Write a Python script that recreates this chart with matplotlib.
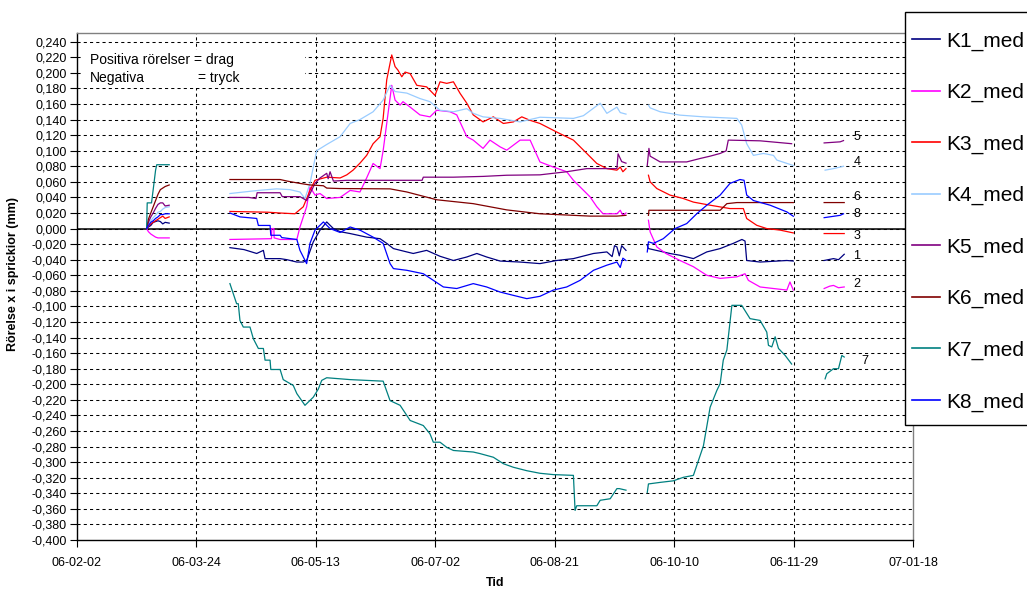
import numpy as np
import matplotlib
matplotlib.use('Agg')
import matplotlib.pyplot as plt
import matplotlib.dates as mdates
from matplotlib.patches import Rectangle
from matplotlib.ticker import FuncFormatter

plt.rcParams['font.family'] = ['Liberation Sans', 'DejaVu Sans']

# ---------------- data (days since 2006-02-02, value in mm; None = gap) ----------------
start_date = '2006-02-02'
series_names = ['K1_med', 'K2_med', 'K3_med', 'K4_med', 'K5_med', 'K6_med', 'K7_med', 'K8_med']
series_colors = ['#000080', '#FF00FF', '#FF0000', '#99CCFF', '#800080', '#800000', '#008080', '#0000FF']

k1_days = [29.25, 30, 31, 32, 33, 34, 35, 36, 37, 38.7, 50,
           64.1, 70, 75.3, 78.1, 78.8, 85.1, 88, 92.1, 94.8, 96.2, 99.0, 101.8, 104.6, 107.4, 110.2, 114.4,
           121.3, 126.9, 129.7, 132.5, 138.1, 140.8, 146.4, 152.0, 157.6, 163.2, 167.4, 171.5, 177.1, 185.5,
           193.8, 200.8, 207.8, 216.2, 221.8, 224, 225, 226.0, 227, 228, 229.8, 234,
           238.7, 239.2, 248.2, 252.4, 258.0, 263.6, 269.2, 274.7, 278.3, 279.6, 280.3, 285.9, 297.1, 299.8, 306,
           312.7, 316.6, 318.7, 321.1]
k1_vals = [0, 0.002, 0.004, 0.008, 0.009, 0.010, 0.009, 0.006, 0.008, 0.007, None,
           -0.0245, -0.027, -0.032, -0.028, -0.0386, -0.0386, -0.040, -0.043, -0.043, -0.041, -0.017, -0.002,
           0.0085, 0.0, -0.004, -0.0064, -0.011, -0.013, -0.019, -0.0257, -0.030, -0.032, -0.028, -0.0356,
           -0.041, -0.0365, -0.032, -0.0365, -0.0417, -0.043, -0.045, -0.041, -0.0386, -0.032, -0.030, -0.036,
           -0.022, -0.0236, -0.035, -0.022, -0.028, None,
           -0.0215, -0.0257, -0.032, -0.0343, -0.0386, -0.030, -0.0257, -0.019, -0.014, -0.016, -0.041, -0.043,
           -0.041, -0.0417, None,
           -0.041, -0.0386, -0.040, -0.033]

k2_days = [29.25, 30, 31, 32, 33, 34, 35, 36, 37, 38.7, 50,
           64.1, 81.5, 81.6, 82.5, 82.6, 85.1, 92.1, 93.4, 96.2, 97.6, 99.7, 101.8, 104.6, 110.2, 114.4, 118.5,
           121.3, 124.0, 126.9, 128.2, 129.7, 131.8, 133.2, 135.3, 136.5, 139.5, 143.6, 147.8, 150.6, 156.2,
           159.0, 163.2, 165.9, 170.0, 172.9, 177.1, 179.9, 185.5, 189.7, 193.8, 199.4, 205.0, 207.8, 210.6,
           214.8, 217.6, 220.2, 226.0, 227.4, 228.5, 229.8, 234,
           239.2, 239.9, 242.7, 246.5, 252.4, 258.0, 263.6, 269.2, 276.2, 279.6, 281.0, 285.9, 297.1, 298.4,
           299.8, 306,
           312.7, 315.0, 316.6, 318.7, 321.1]
k2_vals = [0, -0.004, -0.007, -0.009, -0.011, -0.012, -0.012, -0.012, -0.012, -0.012, None,
           -0.014, -0.013, 0.0, 0.0, -0.012, -0.014, -0.014, 0.002, 0.028, 0.0535, 0.043, 0.045, 0.0386, 0.040,
           0.049, 0.047, 0.065, 0.0836, 0.077, 0.10, 0.135, 0.184, 0.165, 0.1586, 0.163, 0.156, 0.146, 0.1435,
           0.152, 0.150, 0.146, 0.118, 0.1136, 0.103, 0.1136, 0.105, 0.1007, 0.1136, 0.1136, 0.0856, 0.079,
           0.073, 0.062, 0.0535, 0.0406, 0.028, 0.019, 0.019, 0.0235, 0.017, 0.020, None,
           0.0107, -0.0043, -0.0236, -0.032, -0.041, -0.049, -0.060, -0.064, -0.062, -0.058, -0.0665, -0.075,
           -0.079, -0.0686, -0.079, None,
           -0.077, -0.074, -0.073, -0.076, -0.075]

k3_days = [29.25, 30, 31, 32, 33, 34, 35, 36, 37, 38.7, 50,
           64.1, 80, 85, 91.3, 94.8, 97.6, 99.7, 104.6, 110.2, 113.0, 115.6, 118.5, 121.3, 124.0, 126.9, 128.2,
           129.7, 131.8, 133.2, 134.4, 136.0, 137.4, 139.5, 142.3, 146.4, 149.9, 152.0, 154.8, 157.6, 160.4,
           163.2, 165.9, 170.0, 174.3, 178.5, 182.7, 186.2, 189.7, 193.8, 200.8, 207.8, 213.4, 217.6, 221.8,
           226.0, 227.4, 228.5, 229.8, 234,
           239.2, 239.9, 242.7, 248.2, 253.8, 258.0, 265.0, 273.3, 278.9, 280.3, 284.5, 288.7, 294.3, 299.8, 306,
           312.7, 321.1]
k3_vals = [0, 0.003, 0.006, 0.008, 0.010, 0.012, 0.014, 0.016, 0.013, 0.015, None,
           0.022, 0.021, 0.020, 0.019, 0.028, 0.049, 0.062, 0.066, 0.065, 0.069, 0.075, 0.084, 0.094, 0.109,
           0.118, 0.1415, 0.191, 0.223, 0.208, 0.2035, 0.195, 0.201, 0.199, 0.184, 0.182, 0.171, 0.1885, 0.1865,
           0.1885, 0.1736, 0.161, 0.146, 0.137, 0.1435, 0.135, 0.137, 0.1435, 0.139, 0.135, 0.124, 0.1136,
           0.0965, 0.0836, 0.077, 0.075, 0.079, 0.073, 0.077, None,
           0.0685, 0.060, 0.0514, 0.043, 0.0386, 0.034, 0.030, 0.0257, 0.0257, 0.0129, 0.0042, 0.0, -0.002,
           -0.0056, None,
           -0.0064, -0.0064]

k4_days = [29.25, 30, 31, 32, 33, 34, 35, 36, 37, 38.7, 50,
           64.1, 70, 76, 83.7, 89.2, 93.4, 95.5, 97.6, 100.4, 104.6, 110.2, 114.4, 118.5, 124.0, 128.2, 131.1,
           133.2, 138.1, 143.6, 147.8, 152.0, 157.6, 163.2, 165.9, 170.0, 177.1, 185.5, 193.8, 207.8, 212.0,
           219.0, 221.8, 226.0, 227.4, 229.8, 234,
           239.2, 239.9, 244.1, 252.4, 262.2, 276.2, 278.2, 280.3, 283.1, 287.3, 291.5, 292.9, 299.8, 306,
           313.1, 316.6, 320.8]
k4_vals = [0, 0.006, 0.010, 0.014, 0.017, 0.021, 0.022, 0.025, 0.027, 0.028, None,
           0.045, 0.047, 0.049, 0.051, 0.050, 0.047, 0.0386, 0.058, 0.100, 0.108, 0.118, 0.135, 0.140, 0.150,
           0.165, 0.184, 0.176, 0.174, 0.167, 0.163, 0.152, 0.150, 0.154, 0.148, 0.1435, 0.1415, 0.137, 0.143,
           0.1415, 0.145, 0.161, 0.148, 0.156, 0.149, 0.147, None,
           0.1586, 0.155, 0.150, 0.1457, 0.1435, 0.1415, 0.133, 0.109, 0.094, 0.0965, 0.094, 0.088, 0.081, None,
           0.075, 0.077, 0.080]

k5_days = [29.25, 30, 31, 32, 33, 34, 35, 36, 37, 38.7, 50,
           64.1, 72, 75, 75.5, 85.1, 86, 93.4, 96.2, 99.7, 101.8, 104.6, 105.2, 106, 107.4, 113, 144.5, 145,
           157.6, 170, 179.9, 193.8, 205.0, 213.4, 226.0, 226.5, 228.0, 229.8, 234,
           238.7, 239.4, 239.9, 244.1, 255.2, 260.8, 265.0, 269.2, 271.7, 272.6, 285.9, 299.1, 306,
           312.7, 319.4, 320.8]
k5_vals = [0, 0.008, 0.015, 0.020, 0.026, 0.031, 0.033, 0.033, 0.029, 0.030, None,
           0.040, 0.040, 0.0386, 0.046, 0.046, 0.041, 0.041, 0.036, 0.058, 0.065, 0.071, 0.064, 0.073, 0.061,
           0.062, 0.062, 0.066, 0.066, 0.067, 0.0685, 0.069, 0.073, 0.077, 0.077, 0.096, 0.086, 0.084, None,
           0.081, 0.103, 0.093, 0.0856, 0.0856, 0.090, 0.093, 0.0965, 0.0998, 0.1136, 0.1127, 0.109, None,
           0.110, 0.1114, 0.113]

k6_days = [29.25, 30, 31, 32, 33, 34, 35, 36, 37, 38.7, 50,
           64.1, 85.1, 88, 93.4, 97.6, 103.2, 104.6, 110.2, 131.1, 138.1, 150.6, 165.9, 179.9, 193.8, 214.8,
           226.0, 229.8, 234,
           239.2, 239.4, 269.2, 272.0, 276.2, 299.8, 306,
           312.7, 321.1]
k6_vals = [0, 0.012, 0.020, 0.028, 0.036, 0.044, 0.050, 0.052, 0.054, 0.056, None,
           0.063, 0.063, 0.061, 0.058, 0.056, 0.055, 0.052, 0.0514, 0.051, 0.047, 0.037, 0.032, 0.024, 0.019,
           0.016, 0.016, 0.017, None,
           0.017, 0.0235, 0.0235, 0.032, 0.0334, 0.0334, None,
           0.0334, 0.0334]

k7_days = [29.25, 29.5, 31.3, 32, 33, 33.5, 38.7, 50,
           64.1, 65.5, 66.9, 67.6, 68.3, 69.7, 72.5, 73.9, 76.0, 78.1, 78.8, 80.9, 81.2, 85.1, 86.4, 90.6, 92.1,
           95.5, 99.0, 101.1, 102.5, 104.6, 114.4, 128.2, 131.1, 135.3, 139.5, 145.0, 147.8, 149.2, 152.0, 154.8,
           157.6, 165.9, 168.7, 174.3, 178.5, 182.7, 188.3, 193.8, 199.4, 207.8, 208.5, 209.2, 217.6, 219.0,
           223.2, 226.0, 227.0, 229.8, 234,
           238.7, 239.2, 244.1, 249.6, 253.8, 258.0, 260.1, 262.2, 265.0, 267.8, 269.2, 270.5, 272.0, 274.1,
           278.2, 281.7, 285.9, 288.7, 289.4, 290.8, 292.2, 293.6, 296.4, 299.1, 306,
           313.1, 313.8, 316.6, 318.7, 320.1, 321.1]
k7_vals = [0, 0.033, 0.033, 0.050, 0.075, 0.082, 0.082, None,
           -0.0707, -0.0836, -0.0965, -0.0965, -0.118, -0.1265, -0.1265, -0.1415, -0.154, -0.154, -0.169,
           -0.169, -0.181, -0.181, -0.194, -0.2015, -0.212, -0.227, -0.2165, -0.206, -0.195, -0.1916, -0.194,
           -0.196, -0.221, -0.227, -0.2465, -0.253, -0.2636, -0.2744, -0.2744, -0.281, -0.285, -0.287, -0.289,
           -0.2937, -0.302, -0.3066, -0.311, -0.3143, -0.316, -0.317, -0.362, -0.356, -0.356, -0.349, -0.347,
           -0.334, -0.334, -0.336, None,
           -0.339, -0.328, -0.326, -0.324, -0.3195, -0.317, -0.298, -0.279, -0.2295, -0.208, -0.199, -0.169,
           -0.156, -0.0986, -0.0986, -0.1157, -0.118, -0.133, -0.150, -0.152, -0.139, -0.154, -0.163, -0.174,
           None,
           -0.193, -0.1865, -0.180, -0.180, -0.163, -0.165]

k8_days = [29.25, 30, 31, 32, 33, 34, 35, 36, 37, 38.7, 50,
           64.1, 68.3, 75.3, 76.0, 80.9, 81.2, 85.1, 85.8, 92.1, 93.4, 94.8, 96.2, 97.6, 99.7, 103.2, 106.0,
           110.2, 114.4, 118.5, 124.0, 128.2, 131.1, 132.5, 138.1, 145.0, 149.2, 153.4, 159.0, 165.9, 171.5,
           177.1, 182.7, 188.3, 193.8, 199.4, 205.0, 210.6, 216.2, 221.8, 226.0, 227.4, 228.5, 229.8, 234,
           238.7, 239.2, 241.3, 245.4, 250.3, 255.2, 259.4, 263.6, 269.2, 273.3, 277.5, 279.2, 280.3, 283.1,
           290.1, 297.1, 299.8, 306,
           312.7, 319.4, 320.8]
k8_vals = [0, 0.004, 0.008, 0.010, 0.013, 0.015, 0.018, 0.018, 0.019, 0.019, None,
           0.020, 0.015, 0.013, 0.004, 0.004, -0.0086, -0.0086, -0.0116, -0.014, -0.028, -0.0365, -0.045,
           -0.019, -0.002, 0.0085, 0.0, -0.005, 0.002, -0.002, -0.011, -0.019, -0.045, -0.0514, -0.0536, -0.058,
           -0.0665, -0.075, -0.077, -0.0707, -0.075, -0.0815, -0.0858, -0.090, -0.087, -0.079, -0.075, -0.0665,
           -0.0536, -0.047, -0.043, -0.050, -0.038, -0.041, None,
           -0.030, -0.017, -0.019, -0.013, 0.0, 0.0064, 0.019, 0.030, 0.043, 0.058, 0.063, 0.062, 0.043, 0.036,
           0.030, 0.0214, 0.0158, None,
           0.014, 0.017, 0.019]

all_days = [k1_days, k2_days, k3_days, k4_days, k5_days, k6_days, k7_days, k8_days]
all_vals = [k1_vals, k2_vals, k3_vals, k4_vals, k5_vals, k6_vals, k7_vals, k8_vals]

tick_dates = ['2006-02-02', '2006-03-24', '2006-05-13', '2006-07-02', '2006-08-21',
              '2006-10-10', '2006-11-29', '2007-01-18']
tick_labels = ['06-02-02', '06-03-24', '06-05-13', '06-07-02', '06-08-21',
               '06-10-10', '06-11-29', '07-01-18']

end_labels = ['5', '4', '6', '8', '3', '1', '2', '7']
end_label_vals = [0.1178, 0.0857, 0.040, 0.0193, -0.0099, -0.0352, -0.0716, -0.170]
end_label_days = [326.4, 326.4, 326.4, 326.4, 326.4, 326.4, 326.4, 329.8]

# ---------------- figure ----------------
W, H = 1027, 590
fig = plt.figure(figsize=(W / 100, H / 100), dpi=100)
fig.patch.set_facecolor('white')
ax = fig.add_axes([76.7 / W, 1 - 540 / H, (913.3 - 76.7) / W, (540 - 33.3) / H])

base = mdates.date2num(np.datetime64(start_date))
handles = []
for name, col, d, v in zip(series_names, series_colors, all_days, all_vals):
    x = base + np.asarray(d, dtype=float)
    y = np.array([np.nan if q is None else q for q in v], dtype=float)
    ln, = ax.plot(x, y, color=col, lw=0.9, label=name, zorder=3)
    handles.append(ln)

ax.axhline(0, color='black', lw=1.1, zorder=2)

tick_nums = [mdates.date2num(np.datetime64(t)) for t in tick_dates]
ax.set_xlim(tick_nums[0], tick_nums[-1])
ax.set_xticks(tick_nums)
ax.set_xticklabels(tick_labels)
ax.set_ylim(-0.4, 0.2508)
ax.set_yticks(np.round(np.arange(-0.4, 0.2401, 0.02), 3))


def fmt(v, pos):
    s = f"{v:.3f}".replace('.', ',')
    if s == '-0,000':
        s = '0,000'
    return s


ax.yaxis.set_major_formatter(FuncFormatter(fmt))
ax.tick_params(axis='y', direction='out', length=5, width=0.8, pad=2, labelsize=9)
ax.tick_params(axis='x', direction='out', length=5, width=0.8, pad=7, labelsize=9)

for yv in np.round(np.arange(-0.38, 0.2401, 0.02), 3):
    ax.axhline(yv, color='black', lw=0.75, linestyle=(0, (3, 3)), zorder=1)
for xv in tick_nums[1:-1]:
    ax.axvline(xv, color='black', lw=0.75, linestyle=(0, (3, 3)), zorder=1)

for side in ['left', 'bottom']:
    ax.spines[side].set_color('black')
    ax.spines[side].set_linewidth(1.0)
for side in ['top', 'right']:
    ax.spines[side].set_color('#808080')
    ax.spines[side].set_linewidth(1.0)

# annotation box
ax.add_patch(Rectangle((0.0064, 0.892), 0.267, 0.075, transform=ax.transAxes,
                       facecolor='white', edgecolor='none', zorder=2.5))
ax.text(0.0159, 0.947, 'Positiva rörelser = drag', transform=ax.transAxes,
        fontsize=10, va='center', ha='left', zorder=4)
ax.text(0.0159, 0.912, 'Negativa', transform=ax.transAxes,
        fontsize=10, va='center', ha='left', zorder=4)
ax.text(0.145, 0.912, '= tryck', transform=ax.transAxes,
        fontsize=10, va='center', ha='left', zorder=4)

for lab, dv, yv in zip(end_labels, end_label_days, end_label_vals):
    ax.text(base + dv, yv, lab, fontsize=9, ha='center', va='center', zorder=4)

fig.text(13.5 / W, 1 - 274 / H, 'Rörelse x i sprickior (mm)', rotation=90,
         fontsize=9, fontweight='bold', ha='center', va='center')
fig.text(495 / W, 1 - 583 / H, 'Tid', fontsize=9, fontweight='bold', ha='center', va='center')

# legend frame (extends past the right edge of the figure, as in the reference)
frame = Rectangle((905 / W, 1 - 425 / H), (1045 - 905) / W, (425 - 12.3) / H,
                  transform=fig.transFigure, facecolor='white', edgecolor='black',
                  linewidth=1.0, zorder=10)
fig.patches.append(frame)

leg = fig.legend(handles=handles, loc='upper left', bbox_to_anchor=(912 / W, 1 - 31.5 / H),
                 bbox_transform=fig.transFigure, borderaxespad=0, fontsize=15,
                 frameon=False, borderpad=0, handlelength=1.34, handletextpad=0.32,
                 labelspacing=1.55)
leg.set_zorder(11)
for l in leg.get_lines():
    l.set_linewidth(1.2)

fig.savefig('out.png', dpi=100)
